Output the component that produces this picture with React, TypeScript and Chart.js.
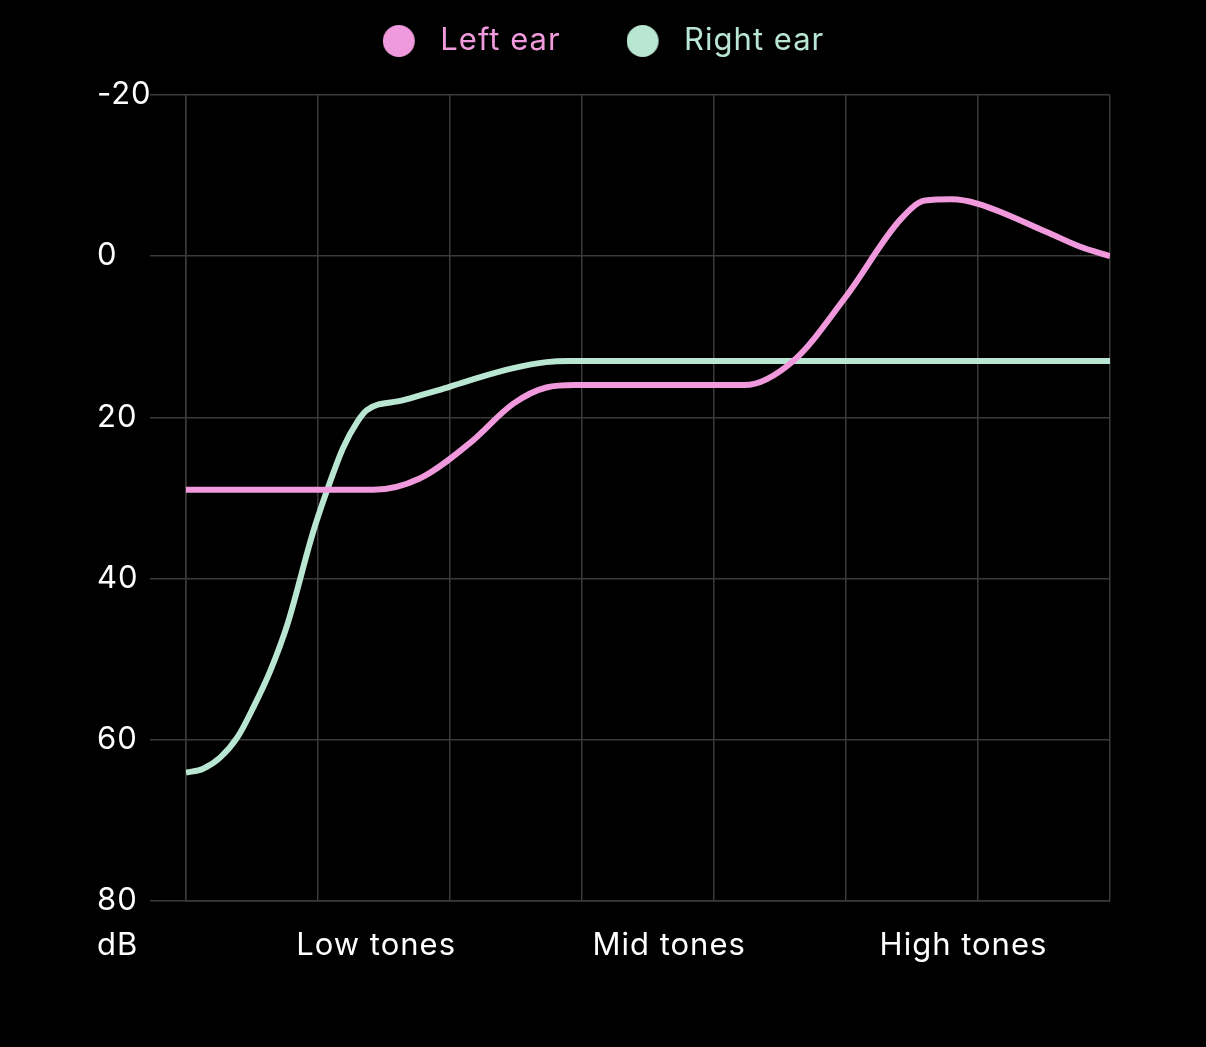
import { useEffect, useRef } from 'react';
import { Chart, registerables } from 'chart.js';

Chart.register(...registerables);

// ---- data ----
const seriesNames = ['Left ear', 'Right ear'];
const leftEarX = [0, 1.42, 1.77, 2.15, 2.48, 2.73, 2.95, 4.23, 4.6, 5.0, 5.41, 5.6, 5.8, 6.0, 6.52, 6.77, 7];
const leftEarDb = [29, 29, 27.6, 23.2, 18.3, 16.3, 16.0, 16.0, 13.0, 5.0, -4.5, -6.9, -7.05, -6.5, -3.0, -1.2, 0];
const rightEarX = [0, 0.13, 0.26, 0.39, 0.51, 0.64, 0.77, 0.96, 1.07, 1.19, 1.3, 1.37, 1.64, 1.9, 2.15, 2.48, 2.73, 2.9, 7];
const rightEarDb = [64.1, 63.6, 62.2, 59.7, 56.0, 51.4, 45.6, 34.4, 29.0, 23.8, 20.5, 19.1, 17.9, 16.7, 15.4, 13.9, 13.15, 13, 13];
const toneLabels = ['Low tones', 'Mid tones', 'High tones'];
const toneTickValues = [1.44, 3.66, 5.89];
const yMin = -20;
const yMax = 80;
const yStep = 20;
const xMin = 0;
const xMax = 7;
const unitLabel = 'dB';

// ---- style ----
const FONT = 'Inter, "Noto Sans", sans-serif';
const FONT_SIZE = 31;
const LETTER_SPACING = '1px';
const PINK = '#F09ADD';
const MINT = '#B9E6D3';
const GRID = '#3a3a3a';
const TEXT = '#ffffff';

function makeDot(color: string): HTMLCanvasElement {
  const c = document.createElement('canvas');
  c.width = 42;
  c.height = 34;
  const g = c.getContext('2d')!;
  g.fillStyle = color;
  g.beginPath();
  g.arc(16, 17, 16, 0, Math.PI * 2);
  g.fill();
  return c;
}

export default function App() {
  const ref = useRef<HTMLCanvasElement | null>(null);

  useEffect(() => {
    document.body.style.background = '#000';
    const colors = [PINK, MINT];
    const dots = colors.map(makeDot);

    const spacing = {
      id: 'letterSpacing',
      beforeUpdate(chart: any) {
        chart.ctx.letterSpacing = LETTER_SPACING;
      },
      beforeDraw(chart: any) {
        chart.ctx.letterSpacing = LETTER_SPACING;
      },
    };

    const legendSpacer = {
      id: 'legendSpacer',
      beforeInit(chart: any) {
        const legend = chart.legend;
        if (!legend) return;
        const orig = legend.fit;
        legend.fit = function () {
          orig.call(this);
          this.height = 135.5;
        };
      },
    };

    const unitPlugin = {
      id: 'unitLabel',
      afterDraw(chart: any) {
        const { ctx } = chart;
        const ys = chart.scales.y;
        const x2 = chart.scales.x2;
        const pad = x2.options.ticks.padding;
        const y = x2.top + pad + (FONT_SIZE * 1.2) / 2;
        ctx.save();
        ctx.font = `${FONT_SIZE}px ${FONT}`;
        ctx.fillStyle = TEXT;
        ctx.textAlign = 'left';
        ctx.textBaseline = 'middle';
        ctx.fillText(unitLabel, ys.left, y);
        ctx.restore();
      },
    };

    const chart = new Chart(ref.current!, {
      type: 'line',
      data: {
        datasets: [
          {
            label: seriesNames[0],
            data: leftEarX.map((x, i) => ({ x, y: leftEarDb[i] })),
            borderColor: PINK,
            backgroundColor: PINK,
            borderWidth: 6,
            pointRadius: 0,
            cubicInterpolationMode: 'monotone',
            fill: false,
            xAxisID: 'x',
            yAxisID: 'y',
          },
          {
            label: seriesNames[1],
            data: rightEarX.map((x, i) => ({ x, y: rightEarDb[i] })),
            borderColor: MINT,
            backgroundColor: MINT,
            borderWidth: 6,
            pointRadius: 0,
            cubicInterpolationMode: 'monotone',
            fill: false,
            xAxisID: 'x',
            yAxisID: 'y',
          },
        ],
      },
      options: {
        animation: false,
        responsive: true,
        maintainAspectRatio: false,
        layout: { padding: { left: 89, right: 88, top: -48.5, bottom: 49 } },
        plugins: {
          tooltip: { enabled: false },
          legend: {
            position: 'top',
            labels: {
              usePointStyle: true,
              pointStyleWidth: 42,
              boxHeight: FONT_SIZE,
              padding: 66,
              font: { family: FONT, size: FONT_SIZE },
              generateLabels: (ch: any) =>
                ch.data.datasets.map((ds: any, i: number) => ({
                  text: ds.label,
                  fillStyle: colors[i],
                  strokeStyle: colors[i],
                  fontColor: colors[i],
                  lineWidth: 0,
                  pointStyle: dots[i],
                  hidden: false,
                  datasetIndex: i,
                })),
            },
          },
        },
        scales: {
          x: {
            type: 'linear',
            position: 'bottom',
            min: xMin,
            max: xMax,
            ticks: { stepSize: 1, display: false },
            grid: { color: GRID, lineWidth: 1.5, drawTicks: false },
            border: { color: GRID, width: 1.5 },
          },
          x2: {
            type: 'linear',
            position: 'bottom',
            min: xMin,
            max: xMax,
            afterBuildTicks: (s: any) => {
              s.ticks = toneTickValues.map((v) => ({ value: v }));
            },
            ticks: {
              autoSkip: false,
              maxRotation: 0,
              padding: 26,
              color: TEXT,
              font: { family: FONT, size: FONT_SIZE },
              callback: (_v: any, i: number) => toneLabels[i],
            },
            grid: { display: false, drawTicks: false },
            border: { display: false },
          },
          y: {
            type: 'linear',
            reverse: true,
            min: yMin,
            max: yMax,
            afterFit: (s: any) => {
              s.width = 89;
            },
            ticks: {
              stepSize: yStep,
              crossAlign: 'far',
              padding: 0,
              color: TEXT,
              font: { family: FONT, size: FONT_SIZE },
            },
            grid: { color: GRID, lineWidth: 1.5, tickLength: 36 },
            border: { color: GRID, width: 1.5 },
          },
        },
      },
      plugins: [spacing, legendSpacer, unitPlugin],
    } as any);

    return () => chart.destroy();
  }, []);

  return (
    <div style={{ position: 'relative', width: '1190px', height: '1031px' }}>
      <canvas ref={ref} />
    </div>
  );
}
